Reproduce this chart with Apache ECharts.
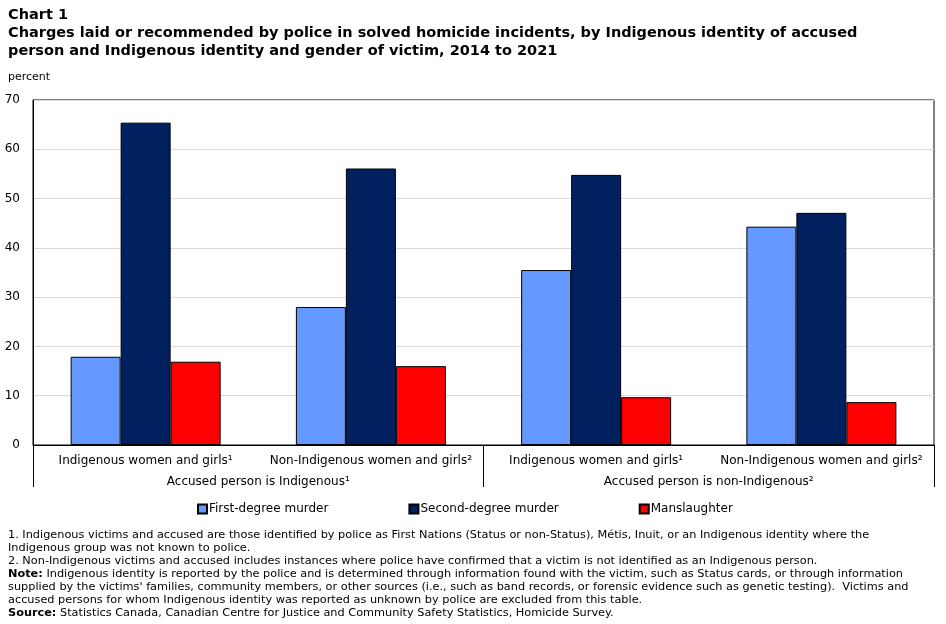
<!DOCTYPE html>
<html>
<head>
<meta charset="utf-8">
<script src="https://cdn.jsdelivr.net/npm/echarts@6/dist/echarts.min.js"></script>
<style>
  html, body { margin: 0; padding: 0; background: #fff; }
  #chart { width: 946px; height: 624px; }
</style>
</head>
<body>
<div id="chart"></div>
<script>
  // categories
  var victimGroups = ['Indigenous women and girls¹', 'Non-Indigenous women and girls²',
    'Indigenous women and girls¹', 'Non-Indigenous women and girls²'];
  var accusedGroups = ['Accused person is Indigenous¹', 'Accused person is non-Indigenous²'];

  // values (percent)
  var firstDegree = [17.9, 28.0, 35.5, 44.3];
  var secondDegree = [65.4, 56.1, 54.8, 47.1];
  var manslaughter = [16.9, 16.0, 9.7, 8.7];

  var yTicks = { min: 0, max: 70, interval: 10 };

  var font = 'DejaVu Sans, Verdana, sans-serif';

  var footText = [
    '1. Indigenous victims and accused are those identified by police as First Nations (Status or non-Status), Métis, Inuit, or an Indigenous identity where the',
    'Indigenous group was not known to police.',
    '2. Non-Indigenous victims and accused includes instances where police have confirmed that a victim is not identified as an Indigenous person.',
    '{b|Note:} Indigenous identity is reported by the police and is determined through information found with the victim, such as Status cards, or through information',
    'supplied by the victims\' families, community members, or other sources (i.e., such as band records, or forensic evidence such as genetic testing).  Victims and',
    'accused persons for whom Indigenous identity was reported as unknown by police are excluded from this table.',
    '{b|Source:} Statistics Canada, Canadian Centre for Justice and Community Safety Statistics, Homicide Survey.'
  ].join('\n');

  var chart = echarts.init(document.getElementById('chart'));

  var barStyle = function (color) {
    return { color: color, borderColor: '#000', borderWidth: 1 };
  };

  var option = {
    animation: false,
    backgroundColor: '#fff',
    textStyle: { fontFamily: font },
    title: [{
      text: 'Chart 1\nCharges laid or recommended by police in solved homicide incidents, by Indigenous identity of accused\nperson and Indigenous identity and gender of victim, 2014 to 2021',
      left: 3,
      top: 1,
      textStyle: { fontFamily: font, fontSize: 14.5, fontWeight: 'bold', color: '#000', lineHeight: 18 }
    }, {
      text: 'percent',
      left: 3,
      top: 67,
      textStyle: { fontFamily: font, fontSize: 11, fontWeight: 'normal', color: '#000' }
    }, {
      text: footText,
      left: 3,
      top: 524,
      textStyle: {
        fontFamily: font, fontSize: 11.3, fontWeight: 'normal', color: '#000', lineHeight: 13,
        rich: { b: { fontFamily: font, fontSize: 11.3, fontWeight: 'bold', color: '#000' } }
      }
    }],
    legend: {
      left: 192,
      top: 498,
      itemGap: 80,
      itemWidth: 9,
      itemHeight: 9,
      icon: 'rect',
      textStyle: { fontFamily: font, fontSize: 12, color: '#000', padding: [0, 0, 0, -3] },
      data: ['First-degree murder', 'Second-degree murder', 'Manslaughter']
    },
    grid: {
      left: 33, right: 12, top: 100, bottom: 179,
      show: true, borderColor: '#000', borderWidth: 1
    },
    xAxis: [{
      type: 'category',
      data: victimGroups,
      axisLine: { lineStyle: { color: '#000' } },
      axisTick: { show: false },
      axisLabel: { color: '#000', fontSize: 12, margin: 10, interval: 0 }
    }, {
      type: 'category',
      data: accusedGroups,
      position: 'bottom',
      axisLine: { show: false },
      axisTick: { show: true, length: 42, lineStyle: { color: '#000' } },
      axisLabel: { color: '#000', fontSize: 12, margin: 31, interval: 0 }
    }],
    yAxis: {
      type: 'value',
      min: yTicks.min,
      max: yTicks.max,
      interval: yTicks.interval,
      axisLine: { show: true, lineStyle: { color: '#000' } },
      axisTick: { show: false },
      axisLabel: { color: '#000', fontSize: 12, margin: 13 },
      splitLine: { lineStyle: { color: '#d9d9d9' } }
    },
    series: [{
      name: 'First-degree murder',
      type: 'bar',
      data: firstDegree,
      barWidth: 50,
      barGap: '0%',
      itemStyle: barStyle('#6699ff')
    }, {
      name: 'Second-degree murder',
      type: 'bar',
      data: secondDegree,
      barWidth: 50,
      barGap: '0%',
      itemStyle: barStyle('#002060')
    }, {
      name: 'Manslaughter',
      type: 'bar',
      data: manslaughter,
      barWidth: 50,
      barGap: '0%',
      itemStyle: barStyle('#ff0000')
    }]
  };

  chart.setOption(option);
</script>
</body>
</html>
